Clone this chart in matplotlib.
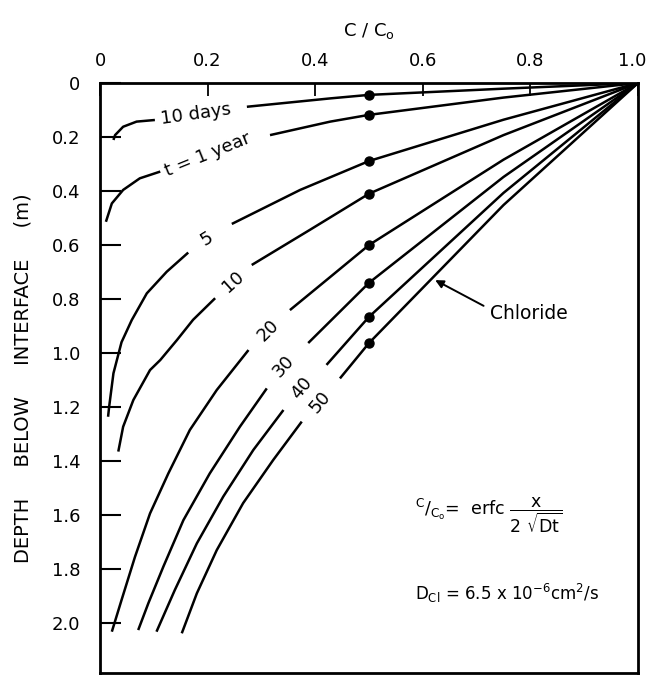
import matplotlib
matplotlib.use('Agg')
import matplotlib.pyplot as plt
import matplotlib.transforms as mtransforms

plt.rcParams['font.family'] = ['DejaVu Sans']
plt.rcParams['mathtext.default'] = 'regular'

gap = float('nan')  # break in a curve where its label sits

# concentration ratio C/Co and depth (m)
conc_10d = [1.0, 0.75, 0.5, 0.428, 0.273, gap, 0.102, 0.068, 0.043, 0.028, 0.025]
depth_10d = [0.0, 0.021, 0.044, 0.057, 0.088, gap, 0.137, 0.143, 0.162, 0.193, 0.211]

conc_1y = [1.0, 0.75, 0.5, 0.428, 0.316, gap, 0.112, 0.074, 0.043, 0.022, 0.011]
depth_1y = [0.0, 0.054, 0.118, 0.143, 0.193, gap, 0.328, 0.353, 0.396, 0.446, 0.514]

conc_5y = [1.0, 0.75, 0.5, 0.372, 0.245, gap, 0.164, 0.124, 0.087, 0.059, 0.040,
           0.025, 0.017, 0.015]
depth_5y = [0.0, 0.136, 0.289, 0.396, 0.522, gap, 0.628, 0.699, 0.779, 0.878, 0.96,
            1.075, 1.199, 1.236]

conc_10y = [1.0, 0.75, 0.5, 0.39, 0.282, gap, 0.214, 0.173, 0.143, 0.112, 0.093,
            0.062, 0.043, 0.034]
depth_10y = [0.0, 0.193, 0.41, 0.544, 0.674, gap, 0.797, 0.877, 0.952, 1.026, 1.063,
             1.174, 1.273, 1.365]

conc_20y = [1.0, 0.75, 0.5, 0.43, 0.353, gap, 0.276, 0.217, 0.167, 0.127, 0.093,
            0.065, 0.040, 0.022]
depth_20y = [0.0, 0.284, 0.60, 0.715, 0.841, gap, 0.989, 1.137, 1.285, 1.446, 1.594,
             1.755, 1.915, 2.032]

conc_30y = [1.0, 0.75, 0.5, 0.387, gap, 0.31, 0.26, 0.204, 0.155, 0.118, 0.09, 0.071]
depth_30y = [0.0, 0.348, 0.74, 0.963, gap, 1.131, 1.273, 1.446, 1.619, 1.79, 1.926, 2.026]

conc_40y = [1.0, 0.75, 0.5, 0.421, gap, 0.341, 0.285, 0.229, 0.18, 0.139, 0.105]
depth_40y = [0.0, 0.407, 0.866, 1.044, gap, 1.211, 1.359, 1.532, 1.705, 1.878, 2.032]

conc_50y = [1.0, 0.75, 0.5, 0.446, gap, 0.375, 0.322, 0.266, 0.217, 0.18, 0.152]
depth_50y = [0.0, 0.452, 0.963, 1.094, gap, 1.254, 1.396, 1.556, 1.73, 1.89, 2.038]

dot_conc = [0.5, 0.5, 0.5, 0.5, 0.5, 0.5, 0.5, 0.5]
dot_depth = [0.044, 0.118, 0.289, 0.41, 0.60, 0.74, 0.866, 0.963]

curve_labels = ['10 days', 't = 1 year', '5', '10', '20', '30', '40', '50']
label_conc = [0.178, 0.201, 0.198, 0.248, 0.313, 0.341, 0.375, 0.409]
label_depth = [0.115, 0.267, 0.575, 0.736, 0.915, 1.05, 1.131, 1.18]
label_rot = [8, 22, 32, 42, 45, 48, 50, 50]

x_ticks = [0, 0.2, 0.4, 0.6, 0.8, 1.0]
x_ticklabels = ['0', '0.2', '0.4', '0.6', '0.8', '1.0']
y_ticks = [0, 0.2, 0.4, 0.6, 0.8, 1.0, 1.2, 1.4, 1.6, 1.8, 2.0]
y_ticklabels = ['0', '0.2', '0.4', '0.6', '0.8', '1.0', '1.2', '1.4', '1.6', '1.8', '2.0']


def main():
    fig = plt.figure(figsize=(6.47, 6.75), dpi=100)
    ax = fig.add_axes([100 / 647, 2 / 675, 538 / 647, 590 / 675])

    curves = [(conc_10d, depth_10d), (conc_1y, depth_1y), (conc_5y, depth_5y),
              (conc_10y, depth_10y), (conc_20y, depth_20y), (conc_30y, depth_30y),
              (conc_40y, depth_40y), (conc_50y, depth_50y)]
    for c, z in curves:
        ax.plot(c, z, color='k', lw=1.8, solid_capstyle='butt', zorder=2)

    ax.plot(dot_conc, dot_depth, 'o', color='k', ms=6.5, zorder=3)

    for txt, c, z, r in zip(curve_labels, label_conc, label_depth, label_rot):
        ax.text(c, z, txt, rotation=r, rotation_mode='anchor', ha='center', va='center',
                fontsize=13, zorder=4)

    ax.annotate('Chloride', xy=(0.623, 0.73), xytext=(0.725, 0.852),
                ha='left', va='center', fontsize=13.5,
                arrowprops=dict(arrowstyle='-|>', color='k', lw=1.4, mutation_scale=12,
                                shrinkA=3, shrinkB=0, relpos=(0, 0.7)))

    ax.text(0.585, 1.6, r'$^{C}/_{C_o}$=  erfc $\dfrac{x}{2\ \sqrt{Dt}}$', fontsize=12.5,
            ha='left', va='center')
    ax.text(0.585, 1.89, r'D$_{Cl}$ = 6.5 x 10$^{-6}$cm$^{2}$/s', fontsize=12,
            ha='left', va='center')

    ax.set_xlim(0, 1.0)
    ax.set_ylim(2.185, 0)
    ax.xaxis.tick_top()
    ax.xaxis.set_label_position('top')
    ax.set_xticks(x_ticks)
    ax.set_xticklabels(x_ticklabels, fontsize=13)
    ax.set_yticks(y_ticks)
    ax.set_yticklabels(y_ticklabels, fontsize=13)
    ax.tick_params(axis='x', direction='in', length=9, width=1.3, pad=9)
    ax.tick_params(axis='y', direction='in', length=15, width=1.5, pad=14)
    ax.set_xlabel(r'C / C$_o$', fontsize=13, labelpad=12)
    ax.set_ylabel('DEPTH     BELOW     INTERFACE     (m)', fontsize=14, labelpad=14)
    for s in ax.spines.values():
        s.set_linewidth(2)

    # keep the last top tick label inside the figure
    last = ax.get_xticklabels()[-1]
    last.set_transform(last.get_transform()
                       + mtransforms.ScaledTranslation(-0.06, 0, fig.dpi_scale_trans))

    fig.savefig('out.png', dpi=100)


if __name__ == '__main__':
    main()
